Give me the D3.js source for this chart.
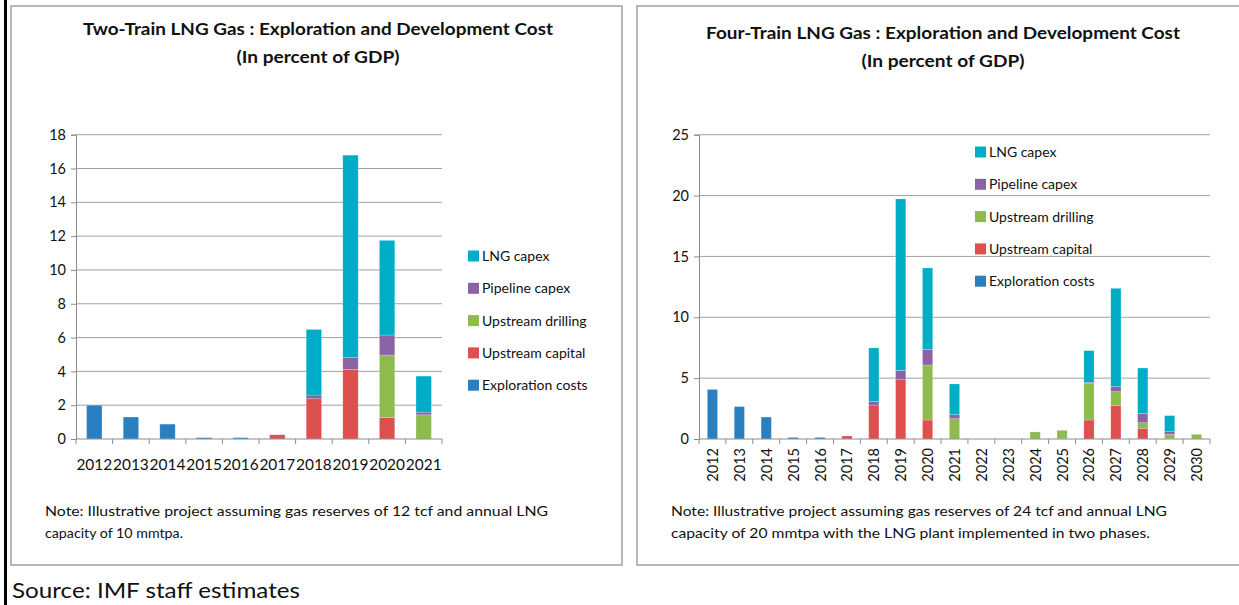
<!DOCTYPE html>
<html>
<head>
<meta charset="utf-8">
<script src="https://cdn.jsdelivr.net/npm/d3@7"></script>
<style>
  body { margin: 0; background: #fff; }
  svg { display: block; font-family: Lato, "Open Sans", sans-serif; }
</style>
</head>
<body>
<svg id="chart" width="1239" height="605"></svg>
<script>
// series, bottom to top
const seriesKeys = ['exploration', 'upCapital', 'upDrilling', 'pipeline', 'lng']
const seriesNames = ['Exploration costs', 'Upstream capital', 'Upstream drilling', 'Pipeline capex', 'LNG capex']
const seriesColors = ['#2a7fc0', '#de4f4f', '#8fbb4e', '#8a63a5', '#00adc6']

// two-train project, 2012-2021
const twoYears = [2012, 2013, 2014, 2015, 2016, 2017, 2018, 2019, 2020, 2021]
const twoExploration = [2.0, 1.3, 0.88, 0.08, 0.08, 0, 0, 0, 0, 0]
const twoUpCapital = [0, 0, 0, 0, 0, 0.25, 2.38, 4.12, 1.27, 0]
const twoUpDrilling = [0, 0, 0, 0, 0, 0, 0, 0, 3.7, 1.43]
const twoPipeline = [0, 0, 0, 0, 0, 0, 0.22, 0.7, 1.18, 0.16]
const twoLng = [0, 0, 0, 0, 0, 0, 3.88, 11.97, 5.6, 2.13]
const twoTicks = [0, 2, 4, 6, 8, 10, 12, 14, 16, 18]

// four-train project, 2012-2030
const fourYears = d3.range(2012, 2031)
const fourExploration = [4.07, 2.66, 1.8, 0.13, 0.13, 0, 0, 0, 0, 0, 0, 0, 0, 0, 0, 0, 0, 0, 0]
const fourUpCapital = [0, 0, 0, 0, 0, 0.25, 2.79, 4.87, 1.56, 0, 0, 0, 0, 0.05, 1.56, 2.77, 0.88, 0.05, 0]
const fourUpDrilling = [0, 0, 0, 0, 0, 0, 0, 0, 4.52, 1.67, 0, 0, 0.58, 0.66, 3.0, 1.12, 0.46, 0.33, 0.38]
const fourPipeline = [0, 0, 0, 0, 0, 0, 0.3, 0.77, 1.29, 0.33, 0, 0, 0, 0, 0.1, 0.41, 0.77, 0.22, 0]
const fourLng = [0, 0, 0, 0, 0, 0, 4.39, 14.08, 6.68, 2.52, 0, 0, 0, 0, 2.6, 8.08, 3.72, 1.32, 0]
const fourTicks = [0, 5, 10, 15, 20, 25]

const svg = d3.select('#chart')

function fitText (sel, width) {
    sel.attr('textLength', width).attr('lengthAdjust', 'spacingAndGlyphs')
}

function buildRows (years, cols) {
    return years.map((y, i) => {
        const row = { year: y }
        seriesKeys.forEach((k, j) => { row[k] = cols[j][i] })
        return row
    })
}

function drawPanel (cfg) {
    const g = svg.append('g').attr('class', 'panel')

    // panel frame
    g.append('rect')
        .attr('x', cfg.box[0]).attr('y', cfg.box[1])
        .attr('width', cfg.box[2]).attr('height', cfg.box[3])
        .attr('fill', 'none')
        .attr('stroke', '#a6a6a6')
        .attr('stroke-width', 1.6)

    // titles
    cfg.titles.forEach((t, i) => {
        const tx = g.append('text')
            .attr('x', cfg.titleX)
            .attr('y', cfg.titleY + i * 28)
            .attr('text-anchor', 'middle')
            .attr('font-size', 17)
            .attr('font-weight', 'bold')
            .attr('fill', '#111')
            .text(t.text)
        fitText(tx, t.width)
    })

    const rows = buildRows(cfg.years, cfg.cols)
    const stack = d3.stack().keys(seriesKeys)(rows)

    const x = d3.scaleBand()
        .domain(cfg.years)
        .range([cfg.x0, cfg.x1])
        .paddingInner(cfg.pad)
        .paddingOuter(cfg.pad / 2)
    const step = (cfg.x1 - cfg.x0) / cfg.years.length
    const y = d3.scaleLinear()
        .domain([0, cfg.ticks[cfg.ticks.length - 1]])
        .range([cfg.y0, cfg.y1])

    // gridlines
    g.append('g')
        .selectAll('line')
        .data(cfg.ticks.filter(d => d > 0))
        .join('line')
        .attr('x1', cfg.x0).attr('x2', cfg.x1)
        .attr('y1', d => y(d)).attr('y2', d => y(d))
        .attr('stroke', '#a0a0a0')
        .attr('stroke-width', 1)

    // y axis
    const yAxis = g.append('g')
        .attr('transform', `translate(${cfg.x0},0)`)
        .call(d3.axisLeft(y).tickValues(cfg.ticks).tickSize(5).tickPadding(5))
    yAxis.select('.domain').attr('stroke', '#8c8c8c')
    yAxis.selectAll('.tick line').attr('stroke', '#8c8c8c')
    yAxis.selectAll('.tick text')
        .attr('font-size', 14.5)
        .attr('fill', '#111')
        .attr('font-family', 'Lato, sans-serif')

    // bars
    g.append('g')
        .selectAll('g')
        .data(stack)
        .join('g')
        .attr('fill', (d, i) => seriesColors[i])
        .selectAll('rect')
        .data(d => d.filter(s => s[1] - s[0] > 0))
        .join('rect')
        .attr('x', d => x(d.data.year))
        .attr('width', x.bandwidth())
        .attr('y', d => y(d[1]))
        .attr('height', d => y(d[0]) - y(d[1]))
        .attr('stroke', '#fff')
        .attr('stroke-opacity', 0.35)
        .attr('stroke-width', 0.6)

    // x axis line and category ticks
    const xa = g.append('g')
    xa.append('line')
        .attr('x1', cfg.x0).attr('x2', cfg.x1)
        .attr('y1', cfg.y0).attr('y2', cfg.y0)
        .attr('stroke', '#8c8c8c')
    xa.selectAll('line.cat')
        .data(d3.range(cfg.years.length + 1))
        .join('line')
        .attr('class', 'cat')
        .attr('x1', i => cfg.x0 + i * step).attr('x2', i => cfg.x0 + i * step)
        .attr('y1', cfg.y0).attr('y2', cfg.y0 + 5)
        .attr('stroke', '#8c8c8c')

    const labels = xa.selectAll('text')
        .data(cfg.years)
        .join('text')
        .attr('font-size', 14.5)
        .attr('fill', '#111')
        .text(d => d)
    if (cfg.rotate) {
        labels
            .attr('text-anchor', 'end')
            .attr('dominant-baseline', 'central')
            .attr('transform', d => `translate(${x(d) + x.bandwidth() / 2},${cfg.y0 + 9}) rotate(-90)`)
    } else {
        labels
            .attr('text-anchor', 'middle')
            .attr('x', d => x(d) + x.bandwidth() / 2)
            .attr('y', cfg.y0 + 31)
        fitText(labels, step - 0.8)
    }

    // legend, top series first
    const leg = g.append('g')
        .selectAll('g')
        .data(d3.range(seriesKeys.length).reverse())
        .join('g')
        .attr('transform', (d, i) => `translate(${cfg.legX},${cfg.legY + i * 32.3})`)
    leg.append('rect')
        .attr('x', 0).attr('y', -5.5)
        .attr('width', 11).attr('height', 11)
        .attr('fill', d => seriesColors[d])
    leg.append('text')
        .attr('x', 14)
        .attr('dy', '0.35em')
        .attr('font-size', 14)
        .attr('fill', '#111')
        .text(d => seriesNames[d])

    // note
    cfg.notes.forEach((n, i) => {
        const tx = g.append('text')
            .attr('x', cfg.noteX)
            .attr('y', cfg.noteY + i * 22)
            .attr('font-size', 13.5)
            .attr('fill', '#111')
            .text(n.text)
        fitText(tx, n.width)
    })
}

// black rule on the far left
svg.append('rect')
    .attr('x', 4).attr('y', 0)
    .attr('width', 3).attr('height', 605)
    .attr('fill', '#000')

drawPanel({
    box: [11, 6, 611, 559],
    titles: [
        { text: 'Two-Train LNG Gas : Exploration and Development Cost', width: 470 },
        { text: '(In percent of GDP)', width: 163 }
    ],
    titleX: 318,
    titleY: 35,
    years: twoYears,
    cols: [twoExploration, twoUpCapital, twoUpDrilling, twoPipeline, twoLng],
    ticks: twoTicks,
    x0: 76, x1: 442, y0: 439, y1: 134.7,
    pad: 0.58,
    rotate: false,
    legX: 468, legY: 256,
    notes: [
        { text: 'Note: Illustrative  project assuming  gas reserves of 12 tcf and annual LNG', width: 503 },
        { text: 'capacity of 10 mmtpa.', width: 138 }
    ],
    noteX: 45, noteY: 516
})

drawPanel({
    box: [637, 6, 610, 559],
    titles: [
        { text: 'Four-Train LNG Gas : Exploration and Development Cost', width: 474 },
        { text: '(In percent of GDP)', width: 163 }
    ],
    titleX: 943,
    titleY: 39,
    years: fourYears,
    cols: [fourExploration, fourUpCapital, fourUpDrilling, fourPipeline, fourLng],
    ticks: fourTicks,
    x0: 699, x1: 1210, y0: 439, y1: 134.7,
    pad: 0.62,
    rotate: true,
    legX: 975, legY: 152,
    notes: [
        { text: 'Note: Illustrative  project assuming  gas reserves of 24 tcf and annual LNG', width: 496 },
        { text: 'capacity of 20 mmtpa  with  the LNG plant implemented  in two phases.', width: 479 }
    ],
    noteX: 671, noteY: 516
})

const src = svg.append('text')
    .attr('x', 12)
    .attr('y', 598)
    .attr('font-size', 21)
    .attr('fill', '#111')
    .text('Source: IMF staff estimates')
fitText(src, 288)
</script>
</body>
</html>
